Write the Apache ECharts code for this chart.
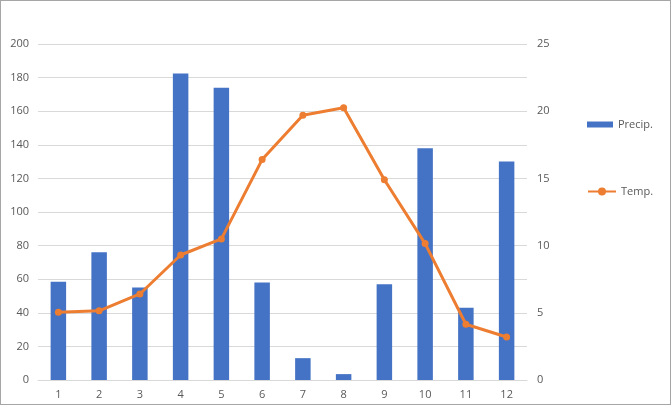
<!DOCTYPE html>
<html><head><meta charset="utf-8">
<script src="https://cdn.jsdelivr.net/npm/echarts@6/dist/echarts.min.js"></script>
<style>html,body{margin:0;padding:0;background:#fff}#c{width:671px;height:405px;box-sizing:border-box;border:1px solid #a6a6a6}</style>
</head><body><div id="c"></div>
<script>
const categories = ['1','2','3','4','5','6','7','8','9','10','11','12'];
const precip = [58.5, 76, 55, 182.5, 174, 58, 13, 3.5, 57, 138, 43, 130];
const temp = [5.05, 5.15, 6.4, 9.3, 10.5, 16.4, 19.7, 20.25, 14.9, 10.15, 4.15, 3.2];
const chart = echarts.init(document.getElementById('c'), null, {renderer:'canvas'});
const txt = {color:'#595959', fontFamily:'Open Sans, Liberation Sans, sans-serif', fontSize:11};
chart.setOption({
  animation:false,
  grid:{left:37, right:143, top:43, bottom:24, containLabel:false},
  legend:[
    {data:[{name:'Precip.', icon:'rect'}], left:581, top:113, itemWidth:26, itemHeight:6, itemGap:4, textStyle:txt},
    {data:['Temp.'], left:581, top:180, itemWidth:28, itemHeight:10, itemGap:4, textStyle:txt}
  ],
  xAxis:{type:'category', data:categories,
    axisLine:{lineStyle:{color:'#d9d9d9'}}, axisTick:{show:false},
    axisLabel:Object.assign({margin:9}, txt)},
  yAxis:[
    {type:'value', min:0, max:200, interval:20, axisLine:{show:false}, axisTick:{show:false},
     splitLine:{lineStyle:{color:'#d9d9d9'}}, axisLabel:Object.assign({margin:9}, txt)},
    {type:'value', min:0, max:25, interval:5, axisLine:{show:false}, axisTick:{show:false},
     splitLine:{show:false}, axisLabel:Object.assign({margin:10}, txt)}
  ],
  series:[
    {name:'Precip.', type:'bar', data:precip, barWidth:'38%', itemStyle:{color:'#4472C4'}},
    {name:'Temp.', type:'line', yAxisIndex:1, data:temp, symbol:'circle', symbolSize:7,
     lineStyle:{color:'#ED7D31', width:3}, itemStyle:{color:'#ED7D31'}}
  ]
});
</script></body></html>
